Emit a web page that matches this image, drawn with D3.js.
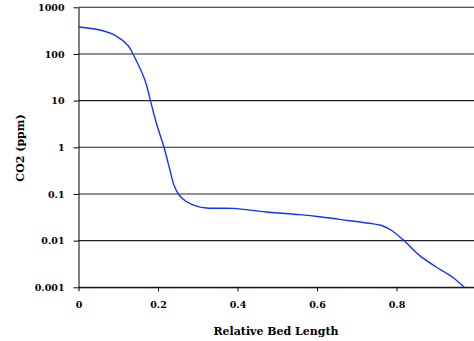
<!DOCTYPE html>
<html>
<head>
<meta charset="utf-8">
<script src="https://cdn.jsdelivr.net/npm/d3@7/dist/d3.min.js"></script>
<style>
    html, body { margin: 0; padding: 0; background: #fff; }
    svg { display: block; }
    text { font-family: "DejaVu Serif", serif; font-weight: bold; fill: #000; }
</style>
</head>
<body>
<div id="chart"></div>
<script>
// bed position (fraction of length) and CO2 concentration (ppm)
var bedPos = [0, 0.054, 0.092, 0.125, 0.137, 0.167, 0.181, 0.196, 0.215, 0.23, 0.24, 0.253,
              0.272, 0.297, 0.322, 0.39, 0.472, 0.556, 0.606, 0.656, 0.732, 0.761,
              0.786, 0.82, 0.857, 0.899, 0.941, 0.97];
var co2ppm = [378, 326, 250, 150, 100, 27.7, 10, 3.27, 1, 0.326, 0.156, 0.095,
              0.068, 0.055, 0.05, 0.049, 0.041, 0.036, 0.0326, 0.0286, 0.0235, 0.0214,
              0.0169, 0.0098, 0.0049, 0.00276, 0.00164, 0.00101];

var yTicks = [0.001, 0.01, 0.1, 1, 10, 100, 1000];
var yTickLabels = ['0.001', '0.01', '0.1', '1', '10', '100', '1000'];
var xTicks = [0, 0.2, 0.4, 0.6, 0.8, 1];
var xTickLabels = ['0', '0.2', '0.4', '0.6', '0.8', ''];   // the "1" falls off the right edge

var width = 474, height = 341;

var x = d3.scaleLinear().domain([0, 1]).range([78.5, 476]);
var y = d3.scaleLog().domain([0.001, 1000]).range([287.3, 7.3]);

var svg = d3.select('#chart').append('svg')
    .attr('width', width)
    .attr('height', height);

// horizontal gridlines
svg.append('g')
    .attr('class', 'grid')
  .selectAll('line')
    .data(yTicks)
  .enter().append('line')
    .attr('x1', x(0))
    .attr('x2', width)
    .attr('y1', d => y(d))
    .attr('y2', d => y(d))
    .attr('stroke', '#222')
    .attr('stroke-width', 1.1);

// y axis
var yAxis = d3.axisLeft(y)
    .tickValues(yTicks)
    .tickFormat((d, i) => yTickLabels[i])
    .tickSizeInner(5)
    .tickSizeOuter(0)
    .tickPadding(9);

svg.append('g')
    .attr('transform', 'translate(' + x(0) + ',0)')
    .call(yAxis)
    .call(g => g.selectAll('text').style('font-size', '9.5px'))
    .call(g => g.selectAll('path, line').attr('stroke', '#000'));

// x axis
var xAxis = d3.axisBottom(x)
    .tickValues(xTicks)
    .tickFormat((d, i) => xTickLabels[i])
    .tickSizeInner(4)
    .tickSizeOuter(0)
    .tickPadding(10);

svg.append('g')
    .attr('transform', 'translate(0,' + y(0.001) + ')')
    .call(xAxis)
    .call(g => g.selectAll('text').style('font-size', '9.5px'))
    .call(g => g.selectAll('path, line').attr('stroke', '#000'));

// the profile
var line = d3.line()
    .x((d, i) => x(bedPos[i]))
    .y(d => y(d))
    .curve(d3.curveCatmullRom.alpha(0.5));

svg.append('path')
    .datum(co2ppm)
    .attr('d', line)
    .attr('fill', 'none')
    .attr('stroke', '#1133ff')
    .attr('stroke-width', 1.4);

// axis titles
svg.append('text')
    .attr('x', 276)
    .attr('y', 335)
    .attr('text-anchor', 'middle')
    .style('font-size', '11px')
    .text('Relative Bed Length');

svg.append('text')
    .attr('transform', 'translate(24,148) rotate(-90)')
    .attr('text-anchor', 'middle')
    .style('font-size', '11px')
    .text('CO2 (ppm)');
</script>
</body>
</html>
